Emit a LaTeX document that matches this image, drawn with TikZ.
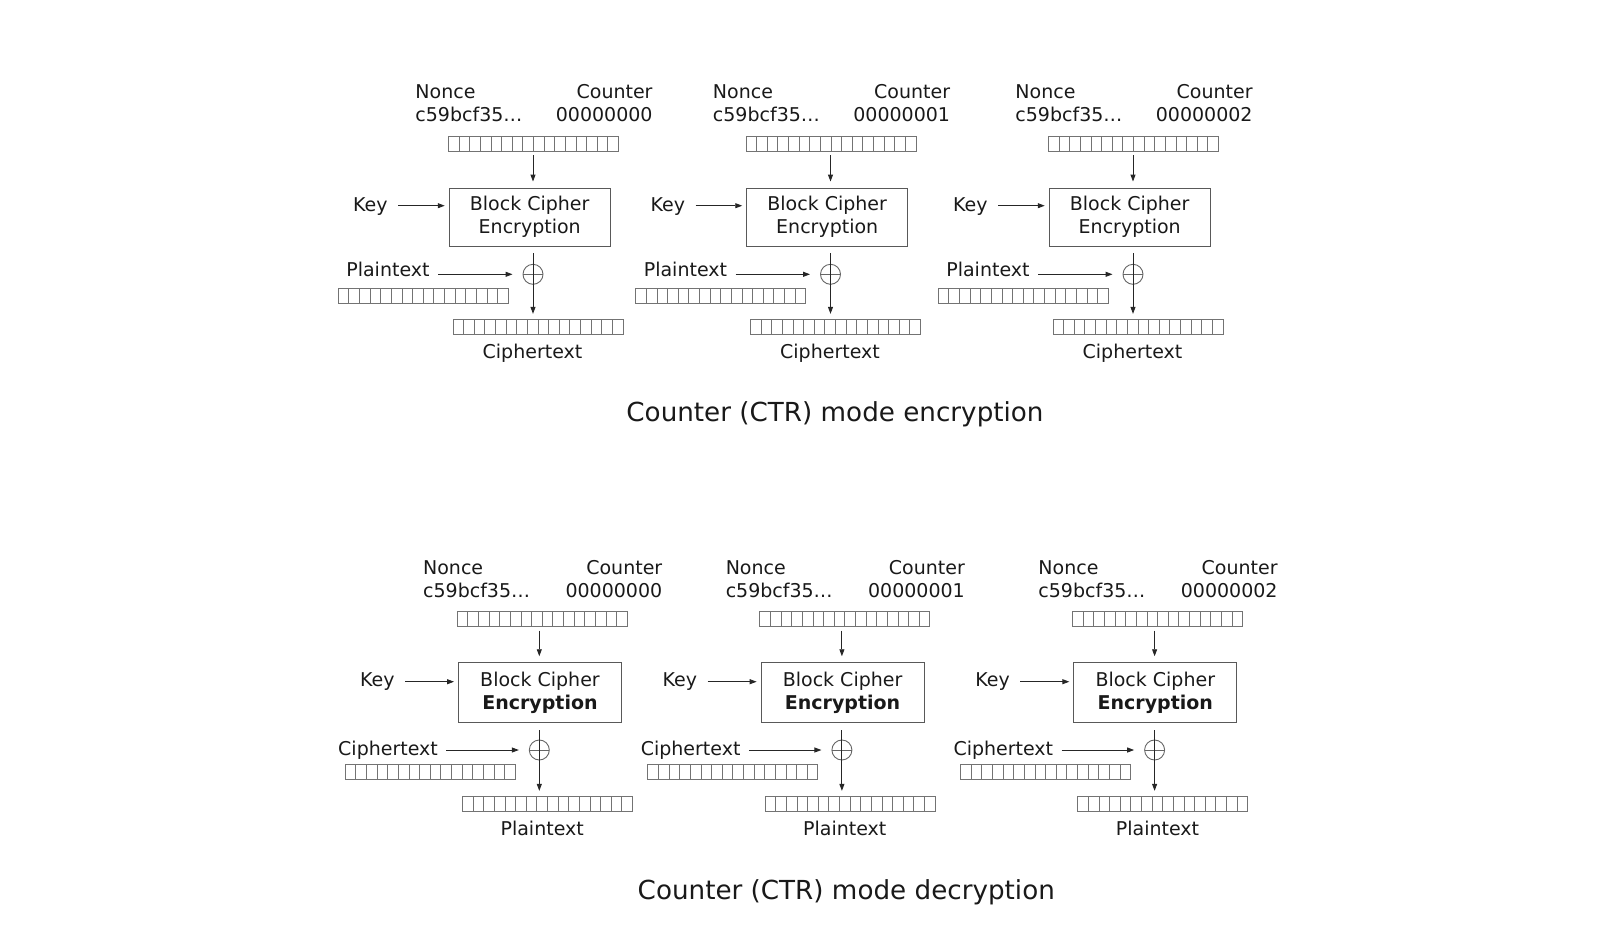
\documentclass[tikz,border=0pt]{standalone}
\usepackage{fontspec}
\setmainfont{DejaVu Sans}
\usetikzlibrary{arrows.meta}
\tikzset{
    every node/.style={inner sep=0pt, font=\fontsize{19}{22.5}\selectfont, text=black!90}
}
\tikzset{
    cipherbox/.style={draw=black!65, minimum width=161pt, minimum height=58pt, align=center},
    strip/.style={draw=black!55, minimum width=170pt, minimum height=15pt,
        path picture={\foreach \k in {1,...,15}
            \draw[black!55] ([xshift=\k*10.625pt]path picture bounding box.south west)
                -- ([xshift=\k*10.625pt]path picture bounding box.north west);}},
    xorsign/.style={circle, draw=black!60, minimum size=20pt,
        path picture={\draw[black!60] (path picture bounding box.west) -- (path picture bounding box.east)
            (path picture bounding box.north) -- (path picture bounding box.south);}},
    arr/.style={-{Triangle[length=7pt,width=5pt]}, draw=black!85},
    title/.style={font=\fontsize{26.2}{30}\selectfont}
}

\begin{document}
\begin{tikzpicture}[x=1pt, y=-1pt, line width=0.9pt]
    \useasboundingbox (0,0) rectangle (1598,938);

    % encryption
    \foreach \i/\c/\cnt in {1/532.5/0, 2/830/1, 3/1132.5/2} {
      \begin{scope}[shift={(\c,0)}]
        \node (enonce\i) [anchor=west, align=left] at (-117.5,103.3) {Nonce\\c59bcf35…};
        \node (ecount\i) [anchor=east, align=right] at (120.5,103.3) {Counter\\0000000\cnt};
        \node (ectr\i) [strip] at (1,143.8) {};
        \node (ebox\i) [cipherbox] at (-2.8,217) {Block Cipher\\Encryption};
        \node (ekey\i) [anchor=base east] at (-144.5,211.5) {Key};
        \node (exor\i) [xorsign] at (0.5,274.3) {};
        \node (ein\i) [anchor=base east] at (-102.5,276.7) {Plaintext};
        \node (eplain\i) [strip] at (-109.2,295.8) {};
        \node (ecipher\i) [strip] at (5.5,326.8) {};
        \node (eout\i) [anchor=base] at (0,358.6) {Ciphertext};

        \draw[arr, shorten <=3.5pt, shorten >=6pt] (ectr\i.south -| exor\i) -- (ebox\i.north -| exor\i);
        \draw[arr, shorten <=10pt, shorten >=4pt] (ekey\i.east |- 0,205.7) -- (ebox\i.west |- 0,205.7);
        \draw[arr, shorten <=8pt, shorten >=10pt] (ein\i.east |- exor\i.west) -- (exor\i.west);
        \draw[arr, shorten <=7pt, shorten >=5pt] (ebox\i.south -| exor\i) -- (ecipher\i.north -| exor\i);
      \end{scope}
    }
    \node (etitle) [title] at (835,414.4) {Counter (CTR) mode encryption};

    % decryption
    \foreach \i/\c/\cnt in {1/540.7/0, 2/843.3/1, 3/1156/2} {
      \begin{scope}[shift={(\c,476)}]
        \node (dnonce\i) [anchor=west, align=left] at (-118,103.3) {Nonce\\c59bcf35…};
        \node (dcount\i) [anchor=east, align=right] at (122,103.3) {Counter\\0000000\cnt};
        \node (dctr\i) [strip] at (1.6,143.2) {};
        \node (dbox\i) [cipherbox, minimum width=163pt, minimum height=60pt] at (-0.7,216.7) {Block Cipher\\\textbf{Encryption}};
        \node (dkey\i) [anchor=base east] at (-145.7,210.9) {Key};
        \node (dxor\i) [xorsign] at (-1.4,274) {};
        \node (din\i) [anchor=base east] at (-102.4,279.2) {Ciphertext};
        \node (dcipher\i) [strip] at (-110.4,295.7) {};
        \node (dplain\i) [strip] at (6.8,327.8) {};
        \node (dout\i) [anchor=base] at (1.5,359.4) {Plaintext};

        \draw[arr, shorten <=3.5pt, shorten >=6pt] (dctr\i.south -| dxor\i) -- (dbox\i.north -| dxor\i);
        \draw[arr, shorten <=10pt, shorten >=4pt] (dkey\i.east |- 0,205.7) -- (dbox\i.west |- 0,205.7);
        \draw[arr, shorten <=8pt, shorten >=10pt] (din\i.east |- dxor\i.west) -- (dxor\i.west);
        \draw[arr, shorten <=7pt, shorten >=5pt] (dbox\i.south -| dxor\i) -- (dplain\i.north -| dxor\i);
      \end{scope}
    }
    \node (dtitle) [title] at (846.3,892.7) {Counter (CTR) mode decryption};
\end{tikzpicture}
\end{document}
